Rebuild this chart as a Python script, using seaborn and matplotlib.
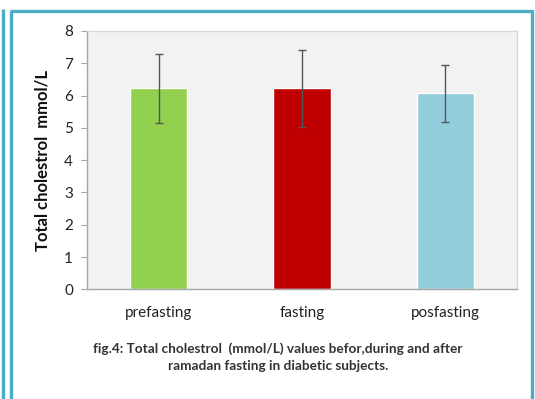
import matplotlib
matplotlib.use("Agg")
import matplotlib.pyplot as plt
import seaborn as sns
import pandas as pd
from matplotlib.lines import Line2D

categories = ["prefasting", "fasting", "posfasting"]
means = [6.22, 6.22, 6.07]
errors = [1.07, 1.18, 0.89]
colors = ["#92D050", "#C00000", "#92CDDC"]
y_ticks = [0, 1, 2, 3, 4, 5, 6, 7, 8]
y_label = "Total cholestrol  mmol/L"
caption = "fig.4: Total cholestrol  (mmol/L) values befor,during and after\nramadan fasting in diabetic subjects."

sns.set_theme(style="white")
plt.rcParams["font.family"] = ["Lato", "DejaVu Sans"]

df = pd.DataFrame({"cat": categories, "val": means})

W, H = 535, 399
fig = plt.figure(figsize=(W / 100, H / 100), dpi=100)
ax = fig.add_axes([87 / W, 1 - 289.3 / H, (517 - 87) / W, (289.3 - 31) / H])
ax.set_facecolor("#F2F2F2")

sns.barplot(data=df, x="cat", y="val", hue="cat", palette=colors, width=0.40,
            legend=False, ax=ax, errorbar=None, saturation=1)
ax.errorbar(range(len(categories)), means, yerr=errors, fmt="none",
            ecolor="#555555", elinewidth=1.0, capsize=3, capthick=1.0)

ax.set_xlim(-0.5, 2.5)
ax.set_ylim(0, 8)
ax.set_yticks(y_ticks)
ax.set_yticklabels([str(t) for t in y_ticks], fontsize=11, color="#222222")
ax.tick_params(axis="y", length=4, width=0.8, color="#A6A6A6", left=True, direction="out", pad=6)
ax.tick_params(axis="x", length=0, pad=12, labelsize=11, labelcolor="#222222")
ax.set_xlabel("")
ax.set_ylabel(y_label, fontsize=12, fontweight="bold", color="#111111", labelpad=10)

for s in ["left", "bottom"]:
    ax.spines[s].set_color("#A6A6A6")
    ax.spines[s].set_linewidth(1.0)
for s in ["top", "right"]:
    ax.spines[s].set_color("#D9D9D9")
    ax.spines[s].set_linewidth(1.0)

fig.text(278 / W, 1 - 357 / H, caption, ha="center", va="center", fontsize=9.8,
         fontweight="bold", color="#333333", linespacing=1.45)

bc = "#4BACC6"
lw = 2.4
def fl(x0, y0, x1, y1):
    fig.add_artist(Line2D([x0 / W, x1 / W], [1 - y0 / H, 1 - y1 / H], color=bc, lw=lw,
                          transform=fig.transFigure, solid_capstyle="butt"))
fl(3, 9, 3, H)
fl(10.5, 10.5, 10.5, H)
fl(9.5, 10.5, 532.5, 10.5)
fl(532, 9.5, 532, H)

fig.savefig("out.png", dpi=100)
